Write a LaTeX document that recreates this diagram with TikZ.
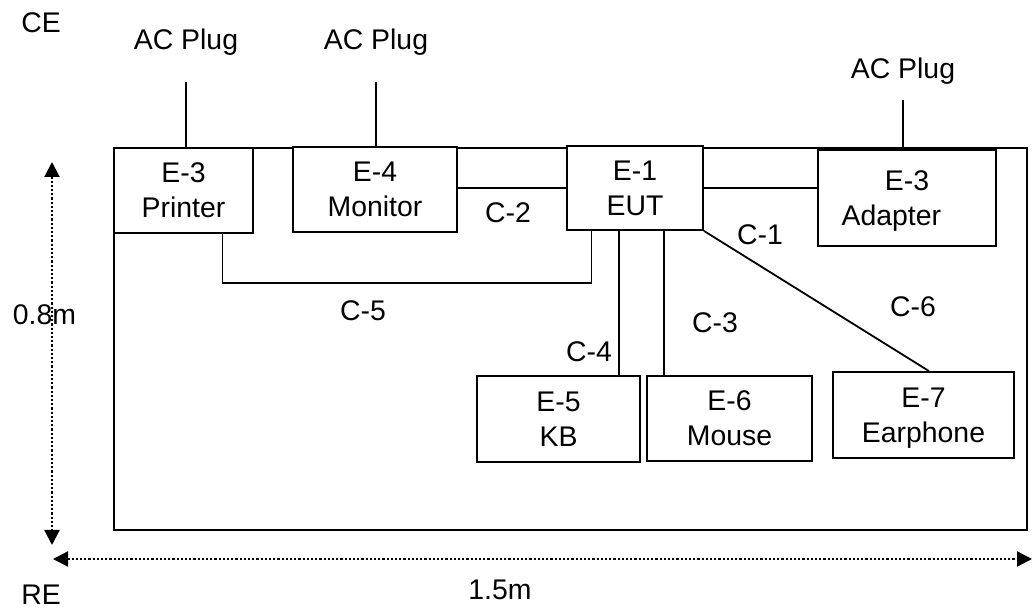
\documentclass[tikz,border=0pt]{standalone}
\usepackage{fontspec}
\setmainfont{Liberation Sans}
\usetikzlibrary{arrows.meta,calc}
\begin{document}
\begin{tikzpicture}[x=0.5pt, y=-0.5pt, line width=0.9pt,
  font=\fontsize{14.2}{17.5}\selectfont,
  unit/.style={draw, fill=white, align=center, inner sep=0pt, text depth=0pt},
  lbl/.style={anchor=base, inner sep=0pt},
  dim/.style={line width=1.1pt, dash pattern=on 1.1pt off 1pt,
    {Triangle[length=7.5pt,width=7.5pt]}-{Triangle[length=7.5pt,width=7.5pt]}}]
  \useasboundingbox (0,0) rectangle (1033,608);
  % table
  \draw (114,148) rectangle (1027,530);
  % units on the table
  \node[unit, minimum width=69.5pt, minimum height=42.5pt] (printer) at (183.5,190.5) {E-3\\Printer};
  \node[unit, minimum width=82pt, minimum height=42.5pt] (monitor) at (375,189.5) {E-4\\Monitor};
  \node[unit, minimum width=68pt, minimum height=42pt] (eut) at (635,188) {E-1\\EUT};
  \node[unit, minimum width=89pt, minimum height=48pt] (adapter) at (907,198) {E-3\\Adapter\hspace*{1.1em}};
  \node[unit, minimum width=81.5pt, minimum height=43pt] (kb) at (558.5,419) {E-5\\KB};
  \node[unit, minimum width=82.5pt, minimum height=42.5pt] (mouse) at (729.5,418.5) {E-6\\Mouse};
  \node[unit, minimum width=90.5pt, minimum height=43pt] (earphone) at (923.5,415) {E-7\\Earphone};
  % AC plugs
  \node[lbl] (plugA) at (186,50) {AC Plug};
  \node[lbl] (plugB) at (376,50) {AC Plug};
  \node[lbl] (plugC) at (903,79) {AC Plug};
  \draw[shorten <=12.5pt] (plugA.south) -- (plugA.south |- printer.north);
  \draw[shorten <=12.5pt] (plugB.south) -- (plugB.south |- monitor.north);
  \draw[shorten <=7pt] (plugC.south) -- (plugC.south |- adapter.north);
  % cables
  \draw (eut.west) -- (eut.west -| monitor.east);
  \draw (eut.east) -- (eut.east -| adapter.west);
  \coordinate (c4) at ($(eut.south west)!0.382!(eut.south east)$);
  \coordinate (c3) at ($(eut.south west)!0.713!(eut.south east)$);
  \coordinate (c5a) at ($(printer.south west)!0.777!(printer.south east)$);
  \coordinate (c5b) at ($(eut.south west)!0.184!(eut.south east)$);
  \draw (c4) -- (c4 |- kb.north);
  \draw (c3) -- (c3 |- mouse.north);
  \draw (eut.south east) -- ([xshift=2.75pt]earphone.north);
  \draw (c5a) -- ++(0,49) -| (c5b);
  \node[lbl] (lc1) at (760,245) {C-1};
  \node[lbl] (lc2) at (508,223) {C-2};
  \node[lbl] (lc3) at (715,333) {C-3};
  \node[lbl] (lc4) at (589,362) {C-4};
  \node[lbl] (lc5) at (363,321) {C-5};
  \node[lbl] (lc6) at (913,317) {C-6};
  % dimensions
  \coordinate (vtop) at (52,162);
  \coordinate (vbot) at (52,545);
  \coordinate (hleft) at (53,559);
  \coordinate (hright) at (1032,559);
  \draw[dim] (vtop) -- (vbot);
  \draw[dim] (hleft) -- (hright);
  \node[lbl] (ce) at (41,33) {CE};
  \node[lbl] (re) at (41,604) {RE};
  \node[lbl] (height) at (44.5,325) {0.8m};
  \node[lbl] (width) at (500,599) {1.5m};
\end{tikzpicture}
\end{document}
